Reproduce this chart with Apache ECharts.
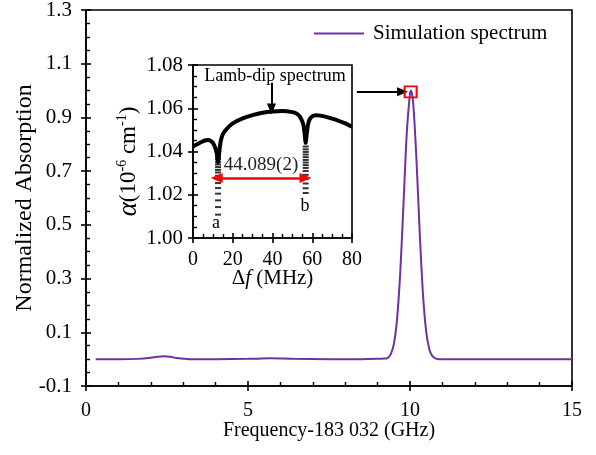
<!DOCTYPE html>
<html><head><meta charset="utf-8">
<script src="https://cdn.jsdelivr.net/npm/echarts@6/dist/echarts.min.js"></script>
<style>html,body{margin:0;padding:0;background:#fff}#c{width:596px;height:455px}</style>
</head><body><div id="c"></div>
<script>
// ---- main spectrum (GHz offset from 183 032, normalized absorption) ----
const mainFreq = [0.3, 1.0, 1.6, 2.0, 2.2, 2.4, 2.6, 2.8, 3.2, 4.0, 5.0, 5.7, 6.4, 7.5, 8.5, 9.0, 9.2, 9.3, 9.4, 9.5, 9.6, 9.7, 9.8, 9.9, 10.0, 10.03, 10.1, 10.2, 10.3, 10.4, 10.5, 10.6, 10.7, 10.8, 10.9, 11.2, 12, 13, 14, 15];
const mainAbs  = [0.000, 0.000, 0.001, 0.005, 0.009, 0.011, 0.009, 0.004, 0.000, 0.000, 0.001, 0.003, 0.001, 0.000, 0.000, 0.001, 0.002, 0.004, 0.017, 0.055, 0.148, 0.325, 0.579, 0.840, 0.991, 1.000, 0.951, 0.742, 0.471, 0.243, 0.102, 0.035, 0.010, 0.002, 0.000, 0.000, 0.000, 0.000, 0.000, 0.000];
const mainXTicks = [0, 15, 5];        // min, max, interval
const mainYTicks = [-0.1, 1.3, 0.2];  // min, max, interval
const seriesName = 'Simulation spectrum';

// ---- inset: Lamb-dip spectrum ----
const insetDf    = [0, 2, 4, 6, 7.5, 9, 10, 11, 11.8, 12.3, 12.6, 12.9, 13.3, 13.8, 14.5, 15.5, 17, 20, 25, 30, 35, 40, 45, 50, 52, 53.5, 54.5, 55.5, 56.2, 56.7, 57.2, 58, 59, 60.5, 62, 64, 67, 70, 73, 76, 80];
const insetAlpha = [1.0423, 1.0433, 1.0443, 1.0451, 1.0453, 1.0449, 1.0440, 1.0422, 1.0398, 1.0372, 1.0350, 1.0372, 1.0405, 1.0440, 1.0468, 1.0488, 1.0505, 1.0530, 1.0553, 1.0568, 1.0579, 1.0585, 1.0587, 1.0582, 1.0576, 1.0565, 1.0550, 1.0525, 1.0480, 1.0440, 1.0480, 1.0530, 1.0553, 1.0565, 1.0568, 1.0566, 1.0560, 1.0552, 1.0543, 1.0532, 1.0515];
const dipCenters = [12.6, 56.7];
const dipAAlpha = [1.0400, 1.0389, 1.0377, 1.0365, 1.0352, 1.0340, 1.0328, 1.0315, 1.0303, 1.0288, 1.0272, 1.0254, 1.0231, 1.0205, 1.0174, 1.0143, 1.0108];
const dipBAlpha = [1.0423, 1.0410, 1.0398, 1.0386, 1.0374, 1.0361, 1.0349, 1.0337, 1.0324, 1.0310, 1.0292, 1.0273, 1.0252, 1.0230, 1.0208];
const insetXTicks = [0, 80, 20];
const insetYTicks = [1.00, 1.08, 0.02];
const splitLabel = '44.089(2)';

const FONT = "'Liberation Serif','Times New Roman',serif";
const BLK = '#000';

function axisPair(grid, ticks, opts) {
  const base = {
    gridIndex: grid, type: 'value', min: ticks[0], max: ticks[1], interval: ticks[2],
    splitLine: { show: false }
  };
  const a = Object.assign({}, base, {
    nameMoveOverlap: false,
    axisLine: { show: true, onZero: false, lineStyle: { color: BLK, width: 1.6 } },
    axisTick: { show: true, inside: false, length: 5, lineStyle: { color: BLK, width: 1.6 } },
    axisLabel: Object.assign({ color: BLK, fontFamily: FONT, fontSize: 20 }, opts.label),
  }, opts.extra || {});
  const b = Object.assign({}, base, {
    gridIndex: grid + 1,
    axisLine: { show: false, onZero: false },
    axisTick: { show: true, inside: true, length: 5, lineStyle: { color: BLK, width: 1.6 } },
    minorTick: { show: true, splitNumber: opts.minor, length: 4, lineStyle: { color: BLK, width: 1.4 } },
    axisLabel: { show: false }
  });
  return [a, b];
}

const mx = axisPair(0, mainXTicks, {
  minor: 5,
  label: { margin: 15, fontSize: 20 },
  extra: { name: 'Frequency-183 032 (GHz)', nameLocation: 'middle', nameGap: 35,
           nameTextStyle: { fontSize: 20, color: BLK, fontFamily: FONT } }
});
const my = axisPair(0, mainYTicks, {
  minor: 4,
  label: { margin: 14, fontSize: 21, formatter: v => v.toFixed(1) },
  extra: { name: 'Normalized Absorption', nameLocation: 'middle', nameGap: 49,
           nameTextStyle: { fontSize: 24, color: BLK, fontFamily: FONT } }
});
const ix = axisPair(2, insetXTicks, {
  minor: 4,
  label: { margin: 12, fontSize: 20 },
  extra: { name: '{n|Δ}{i|f}{n| (MHz)}', nameLocation: 'middle', nameGap: 30,
           nameTextStyle: { color: BLK, fontFamily: FONT,
             rich: { n: { fontSize: 21, fontFamily: FONT, color: BLK }, i: { fontSize: 21, fontStyle: 'italic', fontFamily: FONT, color: BLK } } } }
});
const iy = axisPair(2, insetYTicks, {
  minor: 4,
  label: { margin: 10, fontSize: 21, formatter: v => v.toFixed(2) },
  extra: { name: '{i|α}{n|(10}{s|-6}{n| cm}{e|-1}{z|)}', nameLocation: 'middle', nameGap: 50,
           nameTextStyle: { color: BLK, fontFamily: FONT,
             rich: { i: { fontSize: 27, fontStyle: 'italic', fontFamily: FONT, color: BLK, lineHeight: 28 },
                     n: { fontSize: 23, fontFamily: FONT, color: BLK, lineHeight: 28 },
                     z: { fontSize: 23, fontFamily: FONT, color: BLK, lineHeight: 28, padding: [0, 20, 0, 0] },
                     s: { fontSize: 14, fontFamily: FONT, color: BLK, verticalAlign: 'top', lineHeight: 28 },
                     e: { fontSize: 14, fontFamily: FONT, color: BLK, verticalAlign: 'top', lineHeight: 28 } } } }
});

const gridBase = { outerBoundsMode: 'none', containLabel: false };
const option = {
  animation: false,
  backgroundColor: '#fff',
  textStyle: { fontFamily: FONT, color: BLK },
  legend: {
    show: true, left: 309, top: 18, itemWidth: 50, itemHeight: 2, icon: 'rect',
    data: [seriesName],
    textStyle: { fontSize: 21, color: BLK, fontFamily: FONT, padding: [0, 0, 0, 4] }
  },
  grid: [
    Object.assign({ left: 86, top: 10, width: 486, height: 376, show: true, borderColor: BLK, borderWidth: 1.6 }, gridBase),
    Object.assign({ left: 86, top: 10, width: 486, height: 376 }, gridBase),
    Object.assign({ left: 193, top: 65, width: 159, height: 173, show: true, borderColor: BLK, borderWidth: 1.6, backgroundColor: '#fff' }, gridBase),
    Object.assign({ left: 193, top: 65, width: 159, height: 173 }, gridBase)
  ],
  xAxis: [mx[0], mx[1], ix[0], ix[1]],
  yAxis: [my[0], my[1], iy[0], iy[1]],
  series: [
    {
      name: seriesName, type: 'line', xAxisIndex: 0, yAxisIndex: 0,
      data: mainFreq.map((f, i) => [f, mainAbs[i]]),
      showSymbol: false, smooth: 0.3, color: '#7030A0',
      lineStyle: { width: 2, color: '#7030A0' },
      markLine: {
        silent: true, symbol: ['none', 'triangle'], symbolSize: [9, 11],
        lineStyle: { color: BLK, width: 2, type: 'solid' }, label: { show: false },
        data: [[{ coord: [8.36, 0.996] }, { coord: [9.77, 0.996] }]]
      },
      markPoint: {
        silent: true, symbol: 'rect', symbolSize: [12, 11],
        itemStyle: { color: 'rgba(0,0,0,0)', borderColor: '#ff0000', borderWidth: 2 },
        label: { show: false },
        data: [{ coord: [10.02, 0.995] }]
      }
    },
    {
      name: 'lamb', type: 'line', xAxisIndex: 2, yAxisIndex: 2,
      data: insetDf.map((f, i) => [f, insetAlpha[i]]),
      showSymbol: false, smooth: 0.25, color: BLK,
      lineStyle: { width: 4, color: BLK }, z: 3,
      markLine: {
        silent: true, symbol: ['none', 'triangle'], symbolSize: [9, 11],
        lineStyle: { color: BLK, width: 2, type: 'solid' }, label: { show: false },
        data: [[{ coord: [39.5, 1.0718] }, { coord: [39.5, 1.0597] }]]
      },
      markPoint: {
        silent: true, symbol: 'circle', symbolSize: 1, itemStyle: { color: 'rgba(0,0,0,0)' },
        label: { show: true, position: 'inside', color: BLK, fontFamily: FONT, fontSize: 18 },
        data: [
          { coord: [41.3, 1.0746], label: { formatter: 'Lamb-dip spectrum' } },
          { coord: [11.6, 1.0070], label: { formatter: 'a', fontSize: 18 } },
          { coord: [56.4, 1.0149], label: { formatter: 'b', fontSize: 18 } }
        ]
      }
    },
    {
      name: 'dipA', type: 'scatter', xAxisIndex: 2, yAxisIndex: 2,
      data: dipAAlpha.map(v => [dipCenters[0], v]),
      symbol: 'rect', symbolSize: [6, 2], itemStyle: { color: BLK }, z: 3
    },
    {
      name: 'dipB', type: 'scatter', xAxisIndex: 2, yAxisIndex: 2,
      data: dipBAlpha.map(v => [dipCenters[1], v]),
      symbol: 'rect', symbolSize: [6, 2], itemStyle: { color: BLK }, z: 4,
      markLine: {
        silent: true, symbol: ['triangle', 'triangle'], symbolSize: [10, 12],
        lineStyle: { color: '#ff0000', width: 2.5, type: 'solid' },
        label: { show: true, formatter: splitLabel, position: 'insideMiddleTop', distance: 3,
                 color: '#222', fontFamily: FONT, fontSize: 19 },
        data: [[{ coord: [11.9, 1.0278] }, { coord: [56.6, 1.0278] }]]
      }
    }
  ]
};
const chart = echarts.init(document.getElementById('c'), null, { renderer: 'canvas' });
chart.setOption(option);
</script></body></html>
